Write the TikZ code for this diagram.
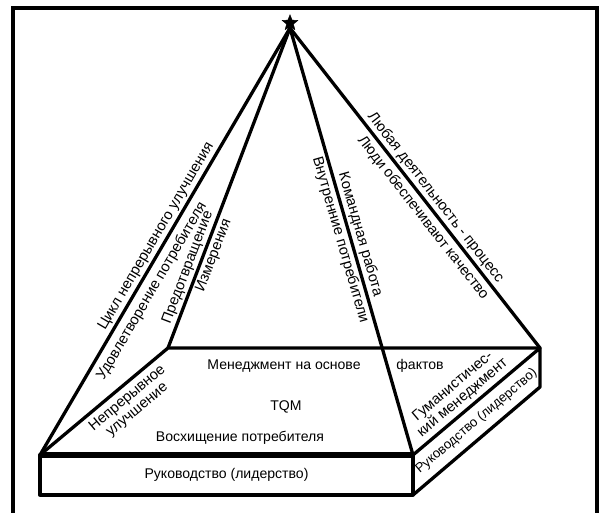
\documentclass[tikz,border=0pt]{standalone}
\usepackage{fontspec}
\setmainfont{Liberation Sans}
\usetikzlibrary{calc,shapes.geometric}
\tikzset{
  frame/.style={line width=2.6pt},
  edge/.style={line width=2.8pt, line join=round, line cap=round},
  front/.style={line width=5pt},
  txt/.style={font=\fontsize{12}{13}\selectfont, inner sep=1.5pt},
  along/.style={txt, font=\fontsize{12.6}{13}\selectfont, sloped},
  apexstar/.style={star, star points=5, star point ratio=2.3, fill, draw, minimum size=14pt, inner sep=0pt}
}

\begin{document}
\begin{tikzpicture}[x=0.03cm, y=-0.03cm]
  \useasboundingbox (0,0) rectangle (605,513);
  % frame (bottom is cut off)
  \draw[frame] (13,513) -- (13,8) -- (597,8) -- (597,513);

  % corners
  \coordinate (apex) at (290,28);
  \coordinate (fl) at (40,455);
  \coordinate (fr) at (413,455);
  \coordinate (bl) at (168,348);
  \coordinate (br) at (540,348);
  \coordinate (flb) at (40,495);
  \coordinate (frb) at (413,495);
  \coordinate (brb) at (540,387);

  % base slab
  \draw[edge] (fl) rectangle (frb);
  \draw[edge] (fr) -- (br) -- (brb) -- (frb);
  \draw[edge] (fl) -- (bl) -- (br);
  \draw[front] (fl) -- (fr);

  % pyramid edges
  \draw[edge] (apex) -- (fl)
    node[along, pos=0.5, above] (cycle) {Цикл непрерывного улучшения}
    node[along, pos=0.6, below, inner sep=4.5pt] (satisf) {Удовлетворение потребителя};
  \draw[edge] (apex) -- (bl)
    node[along, pos=0.76, above] (prevent) {Предотвращение}
    node[along, pos=0.7, below] (measure) {Измерения};
  \draw[edge] (apex) -- (fr)
    node[along, pos=0.49, below] (intern) {Внутренние потребители}
    node[along, pos=0.49, above] (team) {Командная работа};
  \draw[edge] (apex) -- (br)
    node[along, pos=0.55, above] (process) {Любая деятельность - процесс}
    node[along, pos=0.57, below, inner sep=3pt] (people) {Люди обеспечивают качество};

  \node[apexstar] (star) at ($(apex)+(0,-5)$) {};

  % labels on the base
  \path (fl) -- (bl) node[along, pos=0.62, below, align=center, inner sep=5pt] (contimp) {Непрерывное\\улучшение};
  \path (fr) -- (br) node[along, pos=0.45, above, align=center, inner sep=4pt] (humanist) {Гуманистичес-\\кий менеджмент};
  \path ($(fr)!0.5!(frb)$) -- ($(br)!0.5!(brb)$) node[along, font=\fontsize{11.3}{12}\selectfont, pos=0.5] (leadside) {Руководство (лидерство)};
  \node[txt] (mgmt) at (284,366) {Менеджмент на основе};
  \node[txt] (facts) at (420,366) {фактов};
  \node[txt] (tqm) at (286,407) {TQM};
  \node[txt] (delight) at (240,438) {Восхищение потребителя};
  \node[txt] (lead) at ($(fl)!0.5!(frb)$) {Руководство (лидерство)};
\end{tikzpicture}
\end{document}
